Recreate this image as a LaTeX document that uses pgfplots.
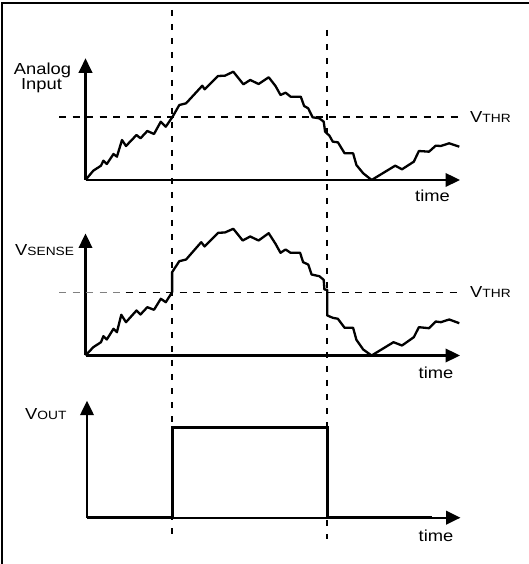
\documentclass[border=0pt]{standalone}
\usepackage{fontspec}
\setmainfont{Liberation Sans}[FakeStretch=1.15]
\usepackage{pgfplots}
\pgfplotsset{compat=1.18}
\usetikzlibrary{arrows.meta}
\newcommand{\lbig}{\fontsize{16}{17}\selectfont}
\newcommand{\lsm}{\fontsize{12}{13}\selectfont}
\pgfplotsset{
  panel/.style={
    x=1bp, y=1bp, anchor=south west, clip=false,
    axis lines=left, xmin=0, ymin=0,
    xtick=\empty, ytick=\empty,
    axis line style={line width=2.3bp, -{Triangle[length=14.5bp,width=13.5bp]}},
  },
}
\begin{document}
\begin{tikzpicture}[x=1bp,y=1bp]
\useasboundingbox (0,0) rectangle (529,564);
% frame (left and top edges)
\draw[line width=2bp] (2.2,0) -- (2.2,561.3) -- (529,561.3);

% ---------------- Panel 1: Analog Input ----------------
\begin{axis}[panel, at={(85.5,384)}, xmax=374.5, ymax=121.7]
\addplot[black, line width=1.8bp, dash pattern=on 7bp off 6.5bp] coordinates {(-26.5,63) (377.5,63)};
\addplot[black, line width=1.9bp, dash pattern=on 6bp off 8bp] coordinates {(86.6,170) (86.6,-358)};
\addplot[black, line width=1.9bp, dash pattern=on 6bp off 8bp] coordinates {(241.8,150) (241.8,-359)};
\addplot[black, line width=2.3bp, line join=round] coordinates {
(0,0) (7.8,9.3) (15.5,14.3) (17.9,19.3) (21.3,16) (28,26) (31.4,23.3) (36.5,40)
(40.5,34) (51,45) (55,41.7) (61.8,49) (68.5,46) (75.3,58.3) (80.3,53.3) (87.1,63.3)
(93.8,75) (100.6,76.7) (116.8,94.3) (119.1,90.7) (132.6,104) (139.4,104.3) (147.8,108.3)
(157.9,95.7) (164.7,100) (173.1,96) (183.2,102.7) (190,94) (195,85) (200.1,87.3)
(205.1,83.3) (215.3,83.3) (218.6,74) (222.7,71.7) (227.1,62.7) (233.8,61.7) (238.2,58.3)
(239.6,48.3) (243.9,44.3) (247.3,38.3) (252.4,37.7) (259.1,26.7) (267.6,26.7) (270.9,15)
(277.7,6.7) (286.1,0) (309.7,14.3) (316.5,10.7) (328.3,18.3) (333.4,29) (343.5,28.3)
(350.2,34.3) (355.3,34) (363.7,36.7) (373.8,33.3)};
\end{axis}

% ---------------- Panel 2: VSENSE ----------------
\begin{axis}[panel, at={(85.5,208.5)}, xmax=374.5, ymax=122]
\addplot[gray, line width=1.8bp, dash pattern=on 7bp off 6.5bp] coordinates {(-26.5,63) (40,63)};
\addplot[black, line width=1.8bp, dash pattern=on 7bp off 6.5bp] coordinates {(40,63) (377.5,63)};
\addplot[black, line width=2.3bp, line join=round] coordinates {
(0,0) (7.8,8.3) (15.5,13.3) (17.9,19.3) (21.3,16) (28,26.7) (31.4,23.3) (35.8,40.7)
(40.5,33.3) (51,45) (55,41) (61.8,48.3) (68.5,45.7) (75.3,56.7) (80.3,53.3) (86.6,63.3)
(86.6,83.3) (93.8,94.3) (100.6,96) (115.7,113.3) (119.1,109) (132.6,122.7) (139.4,123)
(147.8,126.7) (157.2,115) (164.7,119) (173.1,115) (183.2,122.3) (190,111.7) (195,102.7)
(200.1,106) (205.1,102.7) (214.6,102.7) (217.6,93.3) (222.7,91) (226.1,81) (233.8,79.3)
(238.2,75.7) (238.9,66) (241.8,65.7) (241.8,40) (247.3,37.7) (252.4,36.7) (259.1,27.7)
(267.6,27.7) (270.9,15.7) (277.7,6) (286.1,0) (308,13.3) (316.5,10) (328.3,18.3)
(333.4,28.3) (343.5,27.3) (350.2,34) (355.3,33.3) (363.7,36) (373.8,32.3)};
\end{axis}

% ---------------- Panel 3: VOUT ----------------
\begin{axis}[panel, at={(87,46.3)}, xmax=373.5, ymax=117]
\addplot[black, line width=3bp, line join=miter] coordinates {
(0,0) (85.1,0) (85.1,90) (240.3,90) (240.3,0) (344.8,0)};
\end{axis}

% ---------------- Labels ----------------
\node[anchor=base, inner sep=0] at (42.5,489) {\lbig Analog};
\node[anchor=base, inner sep=0] at (41.5,474) {\lbig Input};
\node[anchor=base west, inner sep=0] at (470,441.5) {\lbig V\lsm THR};
\node[anchor=base east, inner sep=0] at (450,362.5) {\lbig time};
\node[anchor=base west, inner sep=0] at (15,308) {\lbig V\lsm SENSE};
\node[anchor=base west, inner sep=0] at (470,266) {\lbig V\lsm THR};
\node[anchor=base east, inner sep=0] at (453.5,185) {\lbig time};
\node[anchor=base west, inner sep=0] at (25,144) {\lbig V\lsm OUT};
\node[anchor=base east, inner sep=0] at (453.5,22) {\lbig time};
\end{tikzpicture}
\end{document}
